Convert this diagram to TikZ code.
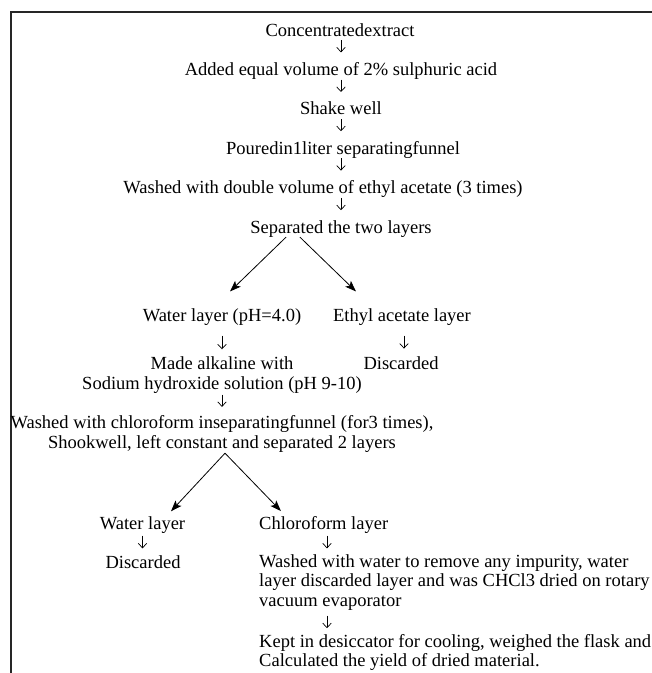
\documentclass[tikz,border=0pt]{standalone}
\usepackage{fontspec}
\setmainfont{Liberation Serif}
\usetikzlibrary{arrows.meta}

\begin{document}
\begin{tikzpicture}[x=1pt, y=1pt, every node/.style={inner sep=0pt, anchor=base, text depth=4pt, font=\fontsize{18.5}{19.3}\selectfont},
  flow/.style={-{Straight Barb[length=4.5pt,width=8.5pt]}, line width=0.7pt, shorten >=9.8pt},
  split/.style={-{Stealth[length=11pt,width=8pt,inset=2.5pt]}, line width=0.8pt}]
\useasboundingbox (0,0) rectangle (652,-673);
% frame
\draw[line width=1.2pt, black!85] (652,-12) -- (11,-12) -- (11,-673);

% main column
\node (extract)     at (340,-36)     {Concentratedextract};
\node (acid)        at (341,-75.4)   {Added equal volume of 2\% sulphuric acid};
\node (shake)       at (341,-114.8)  {Shake well};
\node (funnel)      at (343,-154.2)  {Pouredin1liter separatingfunnel};
\node (ethylWash)   at (323,-193.6)  {Washed with double volume of ethyl acetate (3 times)};
\node (layers)      at (341,-233)    {Separated the two layers};

% first split
\node (water)       at (222,-321)    {Water layer (pH=4.0)};
\node (ethyl)       at (402,-321)    {Ethyl acetate layer};
\node (alkaline)    [align=center] at (222,-389) {Made alkaline with\\Sodium hydroxide solution (pH 9-10)};
\node (discarded)   at (401,-369)    {Discarded};
\node (chloroWash)  [align=center] at (222,-448) {Washed with chloroform inseparatingfunnel (for3 times),\\Shookwell, left constant and separated 2 layers};

% second split
\node (waterLayer)      at (142.5,-529) {Water layer};
\node (waterDiscarded)  at (143,-568)   {Discarded};
\node (chloroform)  [anchor=base west] at (259,-529) {Chloroform layer};
\node (chloroWater) [anchor=base west, align=left] at (259,-606) {Washed with water to remove any impurity, water\\layer discarded layer and was CHCl3 dried on rotary\\vacuum evaporator};
\node (kept)        [anchor=base west, align=left] at (259,-666.5) {Kept in desiccator for cooling, weighed the flask and\\Calculated the yield of dried material.};
\coordinate (chloroAxis) at (327,0);

% straight steps
\draw[flow]   (extract.south -| acid) -- (acid.north);
\draw[flow]   (acid.south) -- (shake.north);
\draw[flow]   (shake.south) -- (shake.south |- funnel.north);
\draw[flow]   (funnel.south -| shake) -- (shake |- ethylWash.north);
\draw[flow]   (ethylWash.south -| layers) -- (layers.north);

\draw[flow, shorten <=10.5pt, shorten >=7.4pt]  (water.south) -- (alkaline.north);
\draw[flow, shorten <=10.5pt, shorten >=7.4pt]  ([xshift=2pt]ethyl.south) -- ([xshift=2pt]ethyl.south |- discarded.north);
\draw[flow, shorten <=1.3pt, shorten >=8.6pt]   (alkaline.south) -- (chloroWash.north);
\draw[flow, shorten <=2.3pt, shorten >=6.6pt]   (waterLayer.south) -- (waterLayer.south |- waterDiscarded.north);
\draw[flow, shorten <=2.3pt, shorten >=6pt]     (chloroform.south -| chloroAxis) -- (chloroWater.north -| chloroAxis);
\draw[flow, shorten <=5.3pt, shorten >=5.8pt]   (chloroWater.south -| chloroAxis) -- (kept.north -| chloroAxis);

% branches
\draw[split]  ([xshift=-55pt]layers.south) -- ([xshift=8pt,yshift=16.5pt]water.north);
\draw[split]  ([xshift=-41pt]layers.south) -- ([xshift=-46pt,yshift=16.5pt]ethyl.north);
\draw[split]  ([xshift=3pt,yshift=-1pt]chloroWash.south) -- ([xshift=28.5pt,yshift=4.7pt]waterLayer.north);
\draw[split]  ([xshift=3pt,yshift=-1pt]chloroWash.south) -- ([xshift=-42.7pt,yshift=4.7pt]chloroform.north);

\end{tikzpicture}
\end{document}
